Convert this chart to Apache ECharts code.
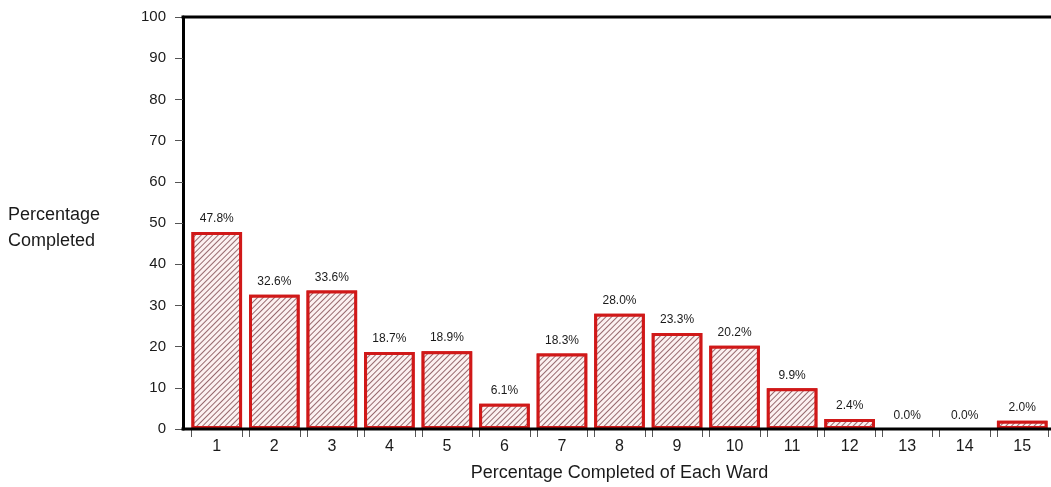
<!DOCTYPE html>
<html>
<head>
<meta charset="utf-8">
<script src="https://cdn.jsdelivr.net/npm/echarts@6/dist/echarts.min.js"></script>
<style>
  html, body { margin: 0; padding: 0; background: #fff; }
  #chart { width: 1051px; height: 487px; }
</style>
</head>
<body>
<div id="chart"></div>
<script>
// Ward numbers along the x axis
const wards = ['1', '2', '3', '4', '5', '6', '7', '8', '9', '10', '11', '12', '13', '14', '15'];
// Percentage completed in each ward
const completed = [47.8, 32.6, 33.6, 18.7, 18.9, 6.1, 18.3, 28.0, 23.3, 20.2, 9.9, 2.4, 0.0, 0.0, 2.0];
// Value axis range and step
const yMin = 0;
const yMax = 100;
const yStep = 10;
// Axis titles
const yTitle = 'Percentage\nCompleted';
const xTitle = 'Percentage Completed of Each Ward';

const FONT = '"Liberation Sans", Arial, sans-serif';
const GRID = { left: 188, right: -7, top: 17, bottom: 57 };
const Y_OFFSET = 5;          // y axis line sits a little left of the plot area
const BAR_RATIO = 51 / 58;   // bar width as a share of the category band
const RED = '#d01818';

const chart = echarts.init(document.getElementById('chart'));

const barData = completed.map(v => v > 0 ? v : { value: v, itemStyle: { borderWidth: 0 } });

chart.setOption({
  animation: false,
  backgroundColor: '#ffffff',
  textStyle: { fontFamily: FONT },
  grid: GRID,
  xAxis: {
    type: 'category',
    data: wards,
    axisLine: { show: false },
    axisTick: { show: false },
    axisLabel: { color: '#1a1a1a', fontSize: 16, margin: 10, fontFamily: FONT },
    name: xTitle,
    nameLocation: 'middle',
    nameGap: 35,
    nameTextStyle: { color: '#1a1a1a', fontSize: 18, fontFamily: FONT }
  },
  yAxis: {
    type: 'value',
    min: yMin,
    max: yMax,
    interval: yStep,
    offset: Y_OFFSET,
    axisLine: { show: true, lineStyle: { color: '#000', width: 3 } },
    axisTick: { show: true, length: 8, lineStyle: { color: '#555', width: 1 } },
    axisLabel: { color: '#1a1a1a', fontSize: 15, margin: 17, fontFamily: FONT },
    splitLine: { show: false }
  },
  series: [
    {
      type: 'bar',
      data: barData,
      barWidth: (BAR_RATIO * 100) + '%',
      itemStyle: {
        color: '#fcf1f1',
        borderColor: RED,
        borderWidth: 3,
        decal: {
          symbol: 'rect',
          symbolSize: 1,
          dashArrayX: [1, 0],
          dashArrayY: [1, 3],
          rotation: -Math.PI / 4,
          color: 'rgba(140, 90, 95, 0.9)',
          backgroundColor: '#fcf1f1'
        }
      },
      label: {
        show: true,
        position: 'top',
        distance: 7,
        color: '#1a1a1a',
        fontSize: 12,
        fontFamily: FONT,
        formatter: p => p.value.toFixed(1) + '%'
      },
      z: 2
    },
    {
      // short tick marks under the axis at both edges of every bar
      type: 'custom',
      silent: true,
      clip: false,
      data: wards.map((w, i) => [i, 0]),
      encode: { x: 0, y: 1 },
      renderItem: function (params, api) {
        const p = api.coord([api.value(0), 0]);
        const half = api.size([1, 0])[0] * BAR_RATIO / 2;
        const mk = x => ({
          type: 'line',
          shape: { x1: x, y1: p[1], x2: x, y2: p[1] + 8 },
          style: { stroke: '#555', lineWidth: 1 }
        });
        return { type: 'group', children: [mk(Math.round(p[0] - half) + 0.5), mk(Math.round(p[0] + half) + 0.5)] };
      },
      z: 1
    }
  ]
});

// Frame lines along the top and along the zero line, starting at the y axis line,
// plus the y axis title beside the middle of the axis
const x0 = GRID.left - Y_OFFSET - 1.5;
const yTop = GRID.top;
const yZero = chart.convertToPixel({ yAxisIndex: 0 }, 0);
const yMid = chart.convertToPixel({ yAxisIndex: 0 }, (yMin + yMax) / 2);
chart.setOption({
  graphic: [
    { type: 'line', z: 10, shape: { x1: x0, y1: yTop, x2: 1051, y2: yTop }, style: { stroke: '#000', lineWidth: 3 } },
    { type: 'line', z: 10, shape: { x1: x0, y1: yZero, x2: 1051, y2: yZero }, style: { stroke: '#000', lineWidth: 3 } },
    {
      type: 'text', x: 8, y: yMid + 5,
      style: {
        text: yTitle, fill: '#1a1a1a', font: '18px ' + FONT,
        align: 'left', verticalAlign: 'middle', lineHeight: 26
      }
    }
  ]
});
</script>
</body>
</html>
